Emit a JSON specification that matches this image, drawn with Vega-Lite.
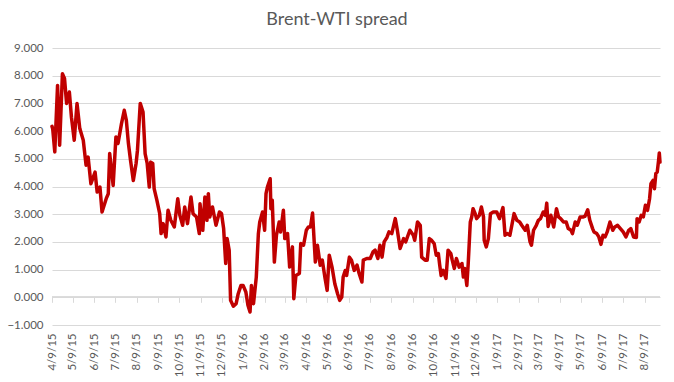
{
  "$schema": "https://vega.github.io/schema/vega-lite/v6.json",
  "width": 608,
  "height": 277,
  "autosize": {"type": "none"},
  "padding": {"left": 52, "top": 48, "right": 14, "bottom": 57},
  "background": "white",
  "title": {"text": "Brent-WTI spread", "fontSize": 18, "font": "Lato", "fontWeight": "normal", "color": "#595959", "dx": -19, "offset": 13},
  "config": {"view": {"stroke": null}},
  "data": {"values": [
    {"date": "2015-04-09", "spread": 6.17}, {"date": "2015-04-10", "spread": 6.09}, {"date": "2015-04-13", "spread": 5.25}, {"date": "2015-04-17", "spread": 7.65}, {"date": "2015-04-20", "spread": 5.49}, {"date": "2015-04-24", "spread": 8.07}, {"date": "2015-04-27", "spread": 7.9}, {"date": "2015-04-30", "spread": 7.0}, {"date": "2015-05-04", "spread": 7.41}, {"date": "2015-05-07", "spread": 6.5},
    {"date": "2015-05-11", "spread": 5.67}, {"date": "2015-05-15", "spread": 7.0}, {"date": "2015-05-19", "spread": 6.09}, {"date": "2015-05-24", "spread": 5.67}, {"date": "2015-05-28", "spread": 4.77}, {"date": "2015-05-31", "spread": 5.06}, {"date": "2015-06-04", "spread": 4.1}, {"date": "2015-06-10", "spread": 4.52}, {"date": "2015-06-13", "spread": 3.8}, {"date": "2015-06-17", "spread": 3.98},
    {"date": "2015-06-20", "spread": 3.08}, {"date": "2015-06-26", "spread": 3.56}, {"date": "2015-06-29", "spread": 3.74}, {"date": "2015-07-01", "spread": 5.19}, {"date": "2015-07-06", "spread": 4.04}, {"date": "2015-07-10", "spread": 5.79}, {"date": "2015-07-13", "spread": 5.55}, {"date": "2015-07-18", "spread": 6.27}, {"date": "2015-07-22", "spread": 6.75}, {"date": "2015-07-25", "spread": 6.39},
    {"date": "2015-07-28", "spread": 5.55}, {"date": "2015-07-31", "spread": 4.95}, {"date": "2015-08-04", "spread": 4.22}, {"date": "2015-08-08", "spread": 4.83}, {"date": "2015-08-10", "spread": 5.31}, {"date": "2015-08-14", "spread": 7.0}, {"date": "2015-08-18", "spread": 6.69}, {"date": "2015-08-21", "spread": 5.19}, {"date": "2015-08-24", "spread": 4.83}, {"date": "2015-08-27", "spread": 3.98},
    {"date": "2015-08-29", "spread": 4.88}, {"date": "2015-09-01", "spread": 4.83}, {"date": "2015-09-03", "spread": 3.92}, {"date": "2015-09-07", "spread": 3.5}, {"date": "2015-09-11", "spread": 3.02}, {"date": "2015-09-13", "spread": 2.3}, {"date": "2015-09-16", "spread": 2.66}, {"date": "2015-09-20", "spread": 2.18}, {"date": "2015-09-23", "spread": 3.14}, {"date": "2015-09-27", "spread": 2.78},
    {"date": "2015-10-02", "spread": 2.54}, {"date": "2015-10-07", "spread": 3.56}, {"date": "2015-10-10", "spread": 2.96}, {"date": "2015-10-14", "spread": 2.6}, {"date": "2015-10-17", "spread": 3.26}, {"date": "2015-10-21", "spread": 2.66}, {"date": "2015-10-26", "spread": 3.62}, {"date": "2015-10-29", "spread": 3.02}, {"date": "2015-11-03", "spread": 2.9}, {"date": "2015-11-07", "spread": 2.3},
    {"date": "2015-11-08", "spread": 3.38}, {"date": "2015-11-12", "spread": 2.42}, {"date": "2015-11-15", "spread": 3.62}, {"date": "2015-11-18", "spread": 2.78}, {"date": "2015-11-20", "spread": 3.74}, {"date": "2015-11-22", "spread": 2.9}, {"date": "2015-11-26", "spread": 3.26}, {"date": "2015-12-01", "spread": 2.6}, {"date": "2015-12-06", "spread": 3.08}, {"date": "2015-12-09", "spread": 3.02},
    {"date": "2015-12-12", "spread": 2.48}, {"date": "2015-12-15", "spread": 1.22}, {"date": "2015-12-17", "spread": 2.12}, {"date": "2015-12-20", "spread": 1.7}, {"date": "2015-12-22", "spread": -0.11}, {"date": "2015-12-26", "spread": -0.32}, {"date": "2015-12-30", "spread": -0.23}, {"date": "2016-01-02", "spread": 0.13}, {"date": "2016-01-06", "spread": 0.43}, {"date": "2016-01-09", "spread": 0.43},
    {"date": "2016-01-13", "spread": 0.19}, {"date": "2016-01-16", "spread": -0.29}, {"date": "2016-01-19", "spread": -0.53}, {"date": "2016-01-21", "spread": 0.43}, {"date": "2016-01-24", "spread": -0.23}, {"date": "2016-01-28", "spread": 0.73}, {"date": "2016-01-31", "spread": 2.3}, {"date": "2016-02-02", "spread": 2.72}, {"date": "2016-02-06", "spread": 3.08}, {"date": "2016-02-09", "spread": 2.42},
    {"date": "2016-02-11", "spread": 3.74}, {"date": "2016-02-13", "spread": 3.98}, {"date": "2016-02-17", "spread": 4.28}, {"date": "2016-02-18", "spread": 3.2}, {"date": "2016-02-20", "spread": 3.5}, {"date": "2016-02-23", "spread": 1.27}, {"date": "2016-02-26", "spread": 2.24}, {"date": "2016-03-01", "spread": 2.72}, {"date": "2016-03-03", "spread": 2.36}, {"date": "2016-03-07", "spread": 3.14},
    {"date": "2016-03-09", "spread": 2.12}, {"date": "2016-03-13", "spread": 2.3}, {"date": "2016-03-16", "spread": 1.09}, {"date": "2016-03-18", "spread": 1.45}, {"date": "2016-03-20", "spread": 1.82}, {"date": "2016-03-22", "spread": -0.05}, {"date": "2016-03-25", "spread": 0.79}, {"date": "2016-03-30", "spread": 0.86}, {"date": "2016-04-01", "spread": 1.94}, {"date": "2016-04-05", "spread": 1.88},
    {"date": "2016-04-09", "spread": 2.42}, {"date": "2016-04-12", "spread": 2.54}, {"date": "2016-04-15", "spread": 2.54}, {"date": "2016-04-18", "spread": 3.04}, {"date": "2016-04-22", "spread": 1.27}, {"date": "2016-04-25", "spread": 1.88}, {"date": "2016-04-29", "spread": 1.16}, {"date": "2016-05-02", "spread": 1.34}, {"date": "2016-05-06", "spread": 0.68}, {"date": "2016-05-09", "spread": 0.25},
    {"date": "2016-05-12", "spread": 1.52}, {"date": "2016-05-16", "spread": 1.09}, {"date": "2016-05-20", "spread": 0.49}, {"date": "2016-05-24", "spread": 0.13}, {"date": "2016-05-27", "spread": -0.11}, {"date": "2016-05-30", "spread": 0.01}, {"date": "2016-06-01", "spread": 0.73}, {"date": "2016-06-04", "spread": 0.97}, {"date": "2016-06-06", "spread": 0.79}, {"date": "2016-06-10", "spread": 1.45},
    {"date": "2016-06-13", "spread": 1.34}, {"date": "2016-06-17", "spread": 0.97}, {"date": "2016-06-21", "spread": 1.16}, {"date": "2016-06-24", "spread": 0.86}, {"date": "2016-06-28", "spread": 0.55}, {"date": "2016-06-30", "spread": 1.34}, {"date": "2016-07-05", "spread": 1.4}, {"date": "2016-07-10", "spread": 1.4}, {"date": "2016-07-14", "spread": 1.64}, {"date": "2016-07-17", "spread": 1.7},
    {"date": "2016-07-21", "spread": 1.4}, {"date": "2016-07-24", "spread": 1.88}, {"date": "2016-07-27", "spread": 1.45}, {"date": "2016-07-30", "spread": 2.0}, {"date": "2016-08-03", "spread": 2.16}, {"date": "2016-08-06", "spread": 2.36}, {"date": "2016-08-10", "spread": 2.3}, {"date": "2016-08-15", "spread": 2.84}, {"date": "2016-08-18", "spread": 2.42}, {"date": "2016-08-22", "spread": 1.76},
    {"date": "2016-08-27", "spread": 2.12}, {"date": "2016-08-30", "spread": 2.0}, {"date": "2016-09-05", "spread": 2.42}, {"date": "2016-09-10", "spread": 2.24}, {"date": "2016-09-12", "spread": 2.06}, {"date": "2016-09-16", "spread": 2.72}, {"date": "2016-09-20", "spread": 2.6}, {"date": "2016-09-22", "spread": 1.45}, {"date": "2016-09-27", "spread": 1.34}, {"date": "2016-09-30", "spread": 1.34},
    {"date": "2016-10-03", "spread": 2.12}, {"date": "2016-10-06", "spread": 2.06}, {"date": "2016-10-10", "spread": 1.94}, {"date": "2016-10-13", "spread": 1.52}, {"date": "2016-10-16", "spread": 1.58}, {"date": "2016-10-18", "spread": 1.16}, {"date": "2016-10-20", "spread": 0.79}, {"date": "2016-10-23", "spread": 0.97}, {"date": "2016-10-27", "spread": 0.68}, {"date": "2016-10-30", "spread": 1.7},
    {"date": "2016-11-03", "spread": 1.58}, {"date": "2016-11-05", "spread": 1.34}, {"date": "2016-11-08", "spread": 1.04}, {"date": "2016-11-11", "spread": 1.4}, {"date": "2016-11-15", "spread": 1.09}, {"date": "2016-11-19", "spread": 1.22}, {"date": "2016-11-21", "spread": 0.73}, {"date": "2016-11-23", "spread": 1.04}, {"date": "2016-11-26", "spread": 0.43}, {"date": "2016-11-28", "spread": 1.22},
    {"date": "2016-12-01", "spread": 2.72}, {"date": "2016-12-03", "spread": 2.9}, {"date": "2016-12-05", "spread": 3.2}, {"date": "2016-12-08", "spread": 3.02}, {"date": "2016-12-10", "spread": 2.84}, {"date": "2016-12-14", "spread": 2.96}, {"date": "2016-12-17", "spread": 3.26}, {"date": "2016-12-20", "spread": 2.9}, {"date": "2016-12-21", "spread": 2.06}, {"date": "2016-12-24", "spread": 1.82},
    {"date": "2016-12-27", "spread": 2.12}, {"date": "2016-12-30", "spread": 3.02}, {"date": "2017-01-03", "spread": 3.08}, {"date": "2017-01-08", "spread": 3.08}, {"date": "2017-01-12", "spread": 2.84}, {"date": "2017-01-17", "spread": 3.24}, {"date": "2017-01-20", "spread": 2.24}, {"date": "2017-01-23", "spread": 2.3}, {"date": "2017-01-27", "spread": 2.24}, {"date": "2017-02-02", "spread": 3.02},
    {"date": "2017-02-06", "spread": 2.78}, {"date": "2017-02-10", "spread": 2.72}, {"date": "2017-02-13", "spread": 2.6}, {"date": "2017-02-18", "spread": 2.42}, {"date": "2017-02-21", "spread": 2.6}, {"date": "2017-02-25", "spread": 2.0}, {"date": "2017-02-27", "spread": 1.88}, {"date": "2017-03-02", "spread": 2.42}, {"date": "2017-03-06", "spread": 2.6}, {"date": "2017-03-09", "spread": 2.78},
    {"date": "2017-03-12", "spread": 2.84}, {"date": "2017-03-16", "spread": 3.08}, {"date": "2017-03-19", "spread": 2.96}, {"date": "2017-03-21", "spread": 3.4}, {"date": "2017-03-23", "spread": 2.56}, {"date": "2017-03-27", "spread": 2.96}, {"date": "2017-03-31", "spread": 2.54}, {"date": "2017-04-04", "spread": 3.2}, {"date": "2017-04-07", "spread": 2.9}, {"date": "2017-04-10", "spread": 2.84},
    {"date": "2017-04-14", "spread": 2.72}, {"date": "2017-04-18", "spread": 2.72}, {"date": "2017-04-21", "spread": 2.48}, {"date": "2017-04-25", "spread": 2.42}, {"date": "2017-04-27", "spread": 2.3}, {"date": "2017-05-01", "spread": 2.72}, {"date": "2017-05-04", "spread": 2.6}, {"date": "2017-05-08", "spread": 2.9}, {"date": "2017-05-12", "spread": 2.9}, {"date": "2017-05-15", "spread": 2.92},
    {"date": "2017-05-19", "spread": 3.16}, {"date": "2017-05-22", "spread": 2.78}, {"date": "2017-05-26", "spread": 2.48}, {"date": "2017-05-28", "spread": 2.36}, {"date": "2017-06-01", "spread": 2.3}, {"date": "2017-06-04", "spread": 2.18}, {"date": "2017-06-07", "spread": 1.91}, {"date": "2017-06-10", "spread": 2.24}, {"date": "2017-06-13", "spread": 2.18}, {"date": "2017-06-16", "spread": 2.36},
    {"date": "2017-06-20", "spread": 2.72}, {"date": "2017-06-24", "spread": 2.42}, {"date": "2017-06-27", "spread": 2.54}, {"date": "2017-07-01", "spread": 2.6}, {"date": "2017-07-05", "spread": 2.48}, {"date": "2017-07-09", "spread": 2.36}, {"date": "2017-07-13", "spread": 2.18}, {"date": "2017-07-17", "spread": 2.42}, {"date": "2017-07-20", "spread": 2.48}, {"date": "2017-07-24", "spread": 2.18},
    {"date": "2017-07-28", "spread": 2.16}, {"date": "2017-07-29", "spread": 2.84}, {"date": "2017-08-01", "spread": 2.72}, {"date": "2017-08-04", "spread": 2.96}, {"date": "2017-08-07", "spread": 2.9}, {"date": "2017-08-10", "spread": 3.32}, {"date": "2017-08-13", "spread": 3.14}, {"date": "2017-08-16", "spread": 3.56}, {"date": "2017-08-18", "spread": 4.1}, {"date": "2017-08-21", "spread": 4.22},
    {"date": "2017-08-23", "spread": 3.92}, {"date": "2017-08-25", "spread": 4.47}, {"date": "2017-08-27", "spread": 4.52}, {"date": "2017-08-29", "spread": 4.95}, {"date": "2017-08-30", "spread": 5.21}, {"date": "2017-08-31", "spread": 4.88}
  ]},
  "layer": [
    {
      "mark": {"type": "rule", "color": "#d9d9d9", "strokeWidth": 1},
      "encoding": {
        "x": {"datum": {"year": 2015, "month": 4, "date": 9, "utc": true}, "type": "temporal",
          "scale": {"type": "utc", "domain": [{"year": 2015, "month": 4, "date": 9, "utc": true}, {"year": 2017, "month": 8, "date": 31, "utc": true}]},
          "axis": {"orient": "bottom", "offset": -27.7, "labels": false, "domain": false, "ticks": true, "tickSize": 5, "tickColor": "#d9d9d9", "grid": false, "title": null,
            "values": [
              {"year": 2015, "month": 4, "date": 9, "utc": true}, {"year": 2015, "month": 5, "date": 9, "utc": true}, {"year": 2015, "month": 6, "date": 9, "utc": true}, {"year": 2015, "month": 7, "date": 9, "utc": true}, {"year": 2015, "month": 8, "date": 9, "utc": true}, {"year": 2015, "month": 9, "date": 9, "utc": true}, {"year": 2015, "month": 10, "date": 9, "utc": true}, {"year": 2015, "month": 11, "date": 9, "utc": true}, {"year": 2015, "month": 12, "date": 9, "utc": true},
              {"year": 2016, "month": 1, "date": 9, "utc": true}, {"year": 2016, "month": 2, "date": 9, "utc": true}, {"year": 2016, "month": 3, "date": 9, "utc": true}, {"year": 2016, "month": 4, "date": 9, "utc": true}, {"year": 2016, "month": 5, "date": 9, "utc": true}, {"year": 2016, "month": 6, "date": 9, "utc": true}, {"year": 2016, "month": 7, "date": 9, "utc": true}, {"year": 2016, "month": 8, "date": 9, "utc": true}, {"year": 2016, "month": 9, "date": 9, "utc": true}, {"year": 2016, "month": 10, "date": 9, "utc": true}, {"year": 2016, "month": 11, "date": 9, "utc": true}, {"year": 2016, "month": 12, "date": 9, "utc": true},
              {"year": 2017, "month": 1, "date": 9, "utc": true}, {"year": 2017, "month": 2, "date": 9, "utc": true}, {"year": 2017, "month": 3, "date": 9, "utc": true}, {"year": 2017, "month": 4, "date": 9, "utc": true}, {"year": 2017, "month": 5, "date": 9, "utc": true}, {"year": 2017, "month": 6, "date": 9, "utc": true}, {"year": 2017, "month": 7, "date": 9, "utc": true}, {"year": 2017, "month": 8, "date": 9, "utc": true}
            ]}},
        "x2": {"datum": {"year": 2017, "month": 8, "date": 31, "utc": true}},
        "y": {"datum": 0, "type": "quantitative", "scale": {"domain": [-1, 9], "nice": false},
          "axis": {"values": [-1, 0, 1, 2, 3, 4, 5, 6, 7, 8, 9], "tickCount": 11, "format": ".3f", "grid": true, "gridColor": "#d9d9d9", "gridWidth": 1, "domain": false, "ticks": false, "labelOverlap": false, "labelPadding": 9, "labelColor": "#595959", "labelFont": "Lato", "labelFontSize": 11.5, "title": null}}
      }
    },
    {
      "mark": {"type": "line", "color": "#c00000", "strokeWidth": 3.5, "strokeJoin": "round", "strokeCap": "round"},
      "encoding": {
        "x": {"field": "date", "type": "temporal",
          "scale": {"type": "utc", "domain": [{"year": 2015, "month": 4, "date": 9, "utc": true}, {"year": 2017, "month": 8, "date": 31, "utc": true}]},
          "axis": {"orient": "bottom", "labelExpr": "utcFormat(datum.value, '%-m/%-d/%y')", "labelAngle": -90, "labelPadding": 8, "labelColor": "#595959", "labelFont": "Lato", "labelFontSize": 11.5, "labelOverlap": false, "labelFlush": false, "domain": false, "ticks": false, "grid": false, "title": null,
            "values": [
              {"year": 2015, "month": 4, "date": 9, "utc": true}, {"year": 2015, "month": 5, "date": 9, "utc": true}, {"year": 2015, "month": 6, "date": 9, "utc": true}, {"year": 2015, "month": 7, "date": 9, "utc": true}, {"year": 2015, "month": 8, "date": 9, "utc": true}, {"year": 2015, "month": 9, "date": 9, "utc": true}, {"year": 2015, "month": 10, "date": 9, "utc": true}, {"year": 2015, "month": 11, "date": 9, "utc": true}, {"year": 2015, "month": 12, "date": 9, "utc": true},
              {"year": 2016, "month": 1, "date": 9, "utc": true}, {"year": 2016, "month": 2, "date": 9, "utc": true}, {"year": 2016, "month": 3, "date": 9, "utc": true}, {"year": 2016, "month": 4, "date": 9, "utc": true}, {"year": 2016, "month": 5, "date": 9, "utc": true}, {"year": 2016, "month": 6, "date": 9, "utc": true}, {"year": 2016, "month": 7, "date": 9, "utc": true}, {"year": 2016, "month": 8, "date": 9, "utc": true}, {"year": 2016, "month": 9, "date": 9, "utc": true}, {"year": 2016, "month": 10, "date": 9, "utc": true}, {"year": 2016, "month": 11, "date": 9, "utc": true}, {"year": 2016, "month": 12, "date": 9, "utc": true},
              {"year": 2017, "month": 1, "date": 9, "utc": true}, {"year": 2017, "month": 2, "date": 9, "utc": true}, {"year": 2017, "month": 3, "date": 9, "utc": true}, {"year": 2017, "month": 4, "date": 9, "utc": true}, {"year": 2017, "month": 5, "date": 9, "utc": true}, {"year": 2017, "month": 6, "date": 9, "utc": true}, {"year": 2017, "month": 7, "date": 9, "utc": true}, {"year": 2017, "month": 8, "date": 9, "utc": true}
            ]}},
        "y": {"field": "spread", "type": "quantitative",
          "scale": {"domain": [-1, 9], "nice": false},
          "axis": {"values": [-1, 0, 1, 2, 3, 4, 5, 6, 7, 8, 9], "tickCount": 11, "format": ".3f", "grid": true, "gridColor": "#d9d9d9", "gridWidth": 1, "domain": false, "ticks": false, "labelOverlap": false, "labelPadding": 9, "labelColor": "#595959", "labelFont": "Lato", "labelFontSize": 11.5, "title": null}}
      }
    }
  ],
  "resolve": {"axis": {"x": "independent"}}
}
